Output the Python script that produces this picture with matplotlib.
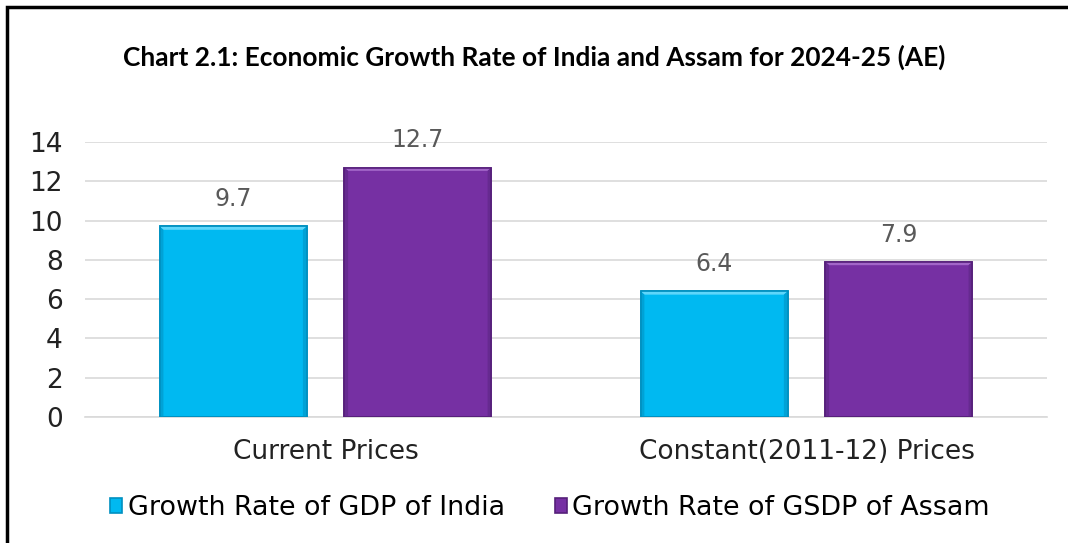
import numpy as np
import matplotlib.pyplot as plt
from matplotlib.patches import Rectangle, Polygon

categories = ['Current Prices', 'Constant(2011-12) Prices']
india = [9.7, 6.4]
assam = [12.7, 7.9]
names = ['Growth Rate of GDP of India', 'Growth Rate of GSDP of Assam']
colors = ['#00B9F1', '#7630A3']
edges = ['#0090C0', '#56207A']
tops = ['#5FD6FA', '#A266C8']
sides = ['#00A2D6', '#662A90']

fig = plt.figure(figsize=(10.68, 5.43), dpi=100)
ax = fig.add_axes([0.0796, 0.232, 0.9007, 0.5065])

x = np.arange(len(categories))
width = 0.306
off = 0.192
bx = 0.008   # bevel size in x units
by = 0.17    # bevel size in y units
for i, (vals, name) in enumerate(zip([india, assam], names)):
    pos = x + (i * 2 - 1) * off
    bars = ax.bar(pos, vals, width=width, color=colors[i], edgecolor=edges[i],
                  linewidth=1.2, label=name, zorder=3)
    for b, v in zip(bars, vals):
        x0, x1 = b.get_x(), b.get_x() + b.get_width()
        # simple bevel: light top, darker sides
        ax.add_patch(Polygon([(x0, v), (x1, v), (x1 - bx, v - by), (x0 + bx, v - by)],
                             closed=True, facecolor=tops[i], edgecolor='none', zorder=4))
        ax.add_patch(Polygon([(x0, 0), (x0, v), (x0 + bx, v - by), (x0 + bx, 0)],
                             closed=True, facecolor=sides[i], edgecolor='none', zorder=4))
        ax.add_patch(Polygon([(x1, 0), (x1, v), (x1 - bx, v - by), (x1 - bx, 0)],
                             closed=True, facecolor=sides[i], edgecolor='none', zorder=4))
        ax.add_patch(Rectangle((x0, 0), x1 - x0, v, fill=False, edgecolor=edges[i],
                               linewidth=1.2, zorder=5))
        ax.annotate(f'{v}', ((x0 + x1) / 2, v), xytext=(0, 11),
                    textcoords='offset points', ha='center', va='bottom',
                    fontsize=17, color='#595959')

ax.set_xlim(-0.5, 1.5)
ax.set_ylim(0, 14)
ax.set_yticks(range(0, 15, 2))
ax.set_xticks(x)
ax.set_xticklabels(categories, fontsize=19, color='#222222')
ax.tick_params(axis='y', labelsize=19, labelcolor='#222222', length=0, pad=16)
ax.tick_params(axis='x', length=0, pad=16)
ax.grid(axis='y', color='#d9d9d9', linewidth=1.2, zorder=0)
for s in ['top', 'right', 'left']:
    ax.spines[s].set_visible(False)
ax.spines['bottom'].set_color('#d9d9d9')
ax.spines['bottom'].set_linewidth(1.2)

fig.text(0.5, 0.895, 'Chart 2.1: Economic Growth Rate of India and Assam for 2024-25 (AE)',
         ha='center', va='center', fontsize=18.9, fontweight='bold', family='Lato')

fig.legend(loc='center', bbox_to_anchor=(0.515, 0.064), ncol=2, frameon=False,
           fontsize=19.4, handlelength=0.45, handleheight=0.45, handletextpad=0.2,
           columnspacing=1.85)

fig.patches.append(Rectangle((7 / 1068, -0.1), 1.2, 1 - 7 / 543 + 0.1,
                             transform=fig.transFigure, fill=False,
                             edgecolor='black', linewidth=2.5))

fig.savefig('out.png', dpi=100)
